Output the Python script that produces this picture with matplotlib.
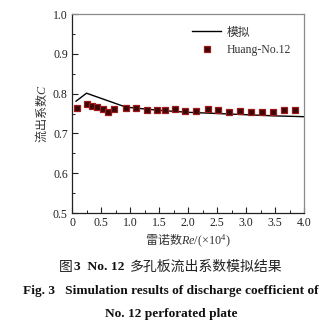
import matplotlib
matplotlib.use("Agg")
import numpy as np
from matplotlib import pyplot as plt
from matplotlib.ticker import MultipleLocator

plt.rcParams["font.family"] = ["Liberation Serif", "Noto Sans CJK SC"]
plt.rcParams["mathtext.fontset"] = "custom"
plt.rcParams["mathtext.rm"] = "Liberation Serif"
plt.rcParams["mathtext.it"] = "Liberation Serif:italic"

# simulated discharge coefficient vs Re (x10^4)
sim_re = [0.07, 0.25, 0.93, 1.5, 2.0, 2.5, 3.0, 3.5, 4.0]
sim_c = [0.781, 0.801, 0.766, 0.758, 0.753, 0.750, 0.747, 0.744, 0.742]

# Huang No.12 measurements
exp_re = [0.08, 0.25, 0.34, 0.43, 0.53, 0.62, 0.73, 0.93, 1.11, 1.29, 1.46,
          1.60, 1.78, 1.95, 2.13, 2.34, 2.52, 2.71, 2.90, 3.08, 3.27, 3.46,
          3.66, 3.84]
exp_c = [0.765, 0.775, 0.770, 0.766, 0.762, 0.754, 0.761, 0.763, 0.763,
         0.760, 0.760, 0.758, 0.761, 0.757, 0.756, 0.761, 0.758, 0.754,
         0.757, 0.754, 0.754, 0.755, 0.760, 0.759]

xticks = np.arange(0, 4.01, 0.5)
yticks = np.arange(0.5, 1.01, 0.1)

fig = plt.figure(figsize=(3.32, 3.22), dpi=100)
ax = fig.add_axes([0.2169, 0.3385, 0.6988, 0.618])

ax.plot(sim_re, sim_c, color="black", linewidth=1.0, label="模拟")
ax.plot(exp_re, exp_c, linestyle="none", marker="s", markersize=5,
        markerfacecolor="#3a0808", markeredgecolor="#a01818",
        markeredgewidth=0.9, label="Huang-No.12")

ax.set_xlim(0, 4.0)
ax.set_ylim(0.5, 1.0)
ax.set_xticks(xticks)
ax.set_yticks(yticks)
ax.set_xticklabels(["0"] + ["%.1f" % v for v in xticks[1:]])
ax.set_yticklabels(["%.1f" % v for v in yticks])
ax.xaxis.set_minor_locator(MultipleLocator(0.25))
ax.yaxis.set_minor_locator(MultipleLocator(0.05))
ax.tick_params(which="both", direction="in", top=False, right=False,
               labelsize=8.5, colors="#222222", pad=3)
ax.tick_params(which="major", length=4, width=0.8)
ax.tick_params(which="minor", length=2.2, width=0.7)

for side in ("top", "right"):
    ax.spines[side].set_color("#8a8a8a")
for side in ("left", "bottom"):
    ax.spines[side].set_color("#222222")
for sp in ax.spines.values():
    sp.set_linewidth(0.9)

ax.set_ylabel("流出系数$C$", fontsize=8.7, family="Noto Sans CJK SC",
              color="#333333", labelpad=3)
ax.set_xlabel("雷诺数$Re/(\\times10^4)$", fontsize=8.7,
              family="Noto Sans CJK SC", color="#333333", labelpad=2)

ax.legend(loc="upper right", frameon=False, fontsize=8.5, handlelength=2.4,
          handletextpad=0.5, borderaxespad=0.5, labelspacing=0.45,
          markerscale=0.8, bbox_to_anchor=(0.99, 0.99), labelcolor="#333333")

# caption
y1 = 1 - 267 / 322
t = fig.text(0.178, y1, "图", fontsize=10, family="Noto Sans CJK SC",
             va="center", ha="left", color="#222222")
t = ax.annotate("3  No. 12", xy=(1, 0.5), xycoords=t, xytext=(1, 0),
                textcoords="offset points", va="center", ha="left",
                fontsize=9.7, weight="bold", family="Liberation Serif",
                color="#111111")
ax.annotate("多孔板流出系数模拟结果", xy=(1, 0.5), xycoords=t,
            xytext=(4, 0), textcoords="offset points", va="center",
            ha="left", fontsize=10, family="Noto Sans CJK SC",
            color="#222222")

fig.text(0.515, 1 - 291 / 322,
         "Fig. 3   Simulation results of discharge coefficient of",
         fontsize=9.6, weight="bold", family="Liberation Serif",
         ha="center", va="center", color="#111111")
fig.text(0.515, 1 - 314 / 322, "No. 12 perforated plate",
         fontsize=9.6, weight="bold", family="Liberation Serif",
         ha="center", va="center", color="#111111")

fig.savefig("out.png", dpi=100)
